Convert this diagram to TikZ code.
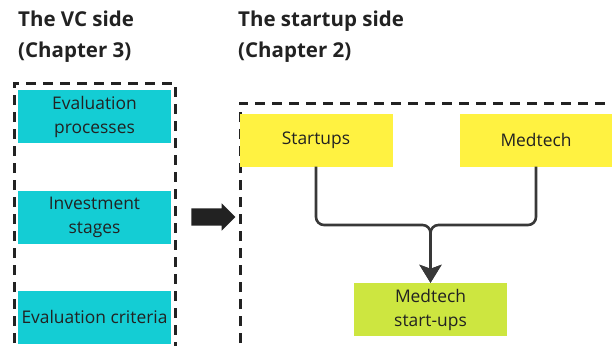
\documentclass[tikz,border=0pt]{standalone}
\usepackage{fontspec}
\setmainfont{Open Sans}
\usetikzlibrary{arrows.meta,shapes.arrows}

\definecolor{vccyan}{RGB}{20,205,212}
\definecolor{stickyyellow}{RGB}{255,242,65}
\definecolor{stickylime}{RGB}{205,230,64}
\definecolor{inkgray}{RGB}{34,34,34}

\tikzset{
  title/.style = {anchor = base west, inner sep = 0, text = inkgray,
    font = \fontsize{20.5}{24}\selectfont\bfseries},
  sidebox/.style = {draw = inkgray, line width = 3pt, dash pattern = on 10pt off 7pt},
  sticky/.style = {minimum width = 153pt, minimum height = 53pt, inner sep = 0,
    align = center, text = inkgray, font = \fontsize{17.4}{24}\selectfont},
  conn/.style = {draw = inkgray!90, line width = 2.6pt, rounded corners = 8pt,
    -{Stealth[length = 18pt, width = 22pt, inset = 4pt]}}
}

\begin{document}
\begin{tikzpicture}[x = 1pt, y = -1pt]
      \useasboundingbox (0, 0) rectangle (612, 345);

      % titles
      \node[title] (vct1) at (18, 27) {The VC side};
      \node[title] (vct2) at (18, 57) {(Chapter 3)};
      \node[title] (sut1) at (238, 27) {The startup side};
      \node[title] (sut2) at (238, 57) {(Chapter 2)};

      % dashed frames
      \draw[sidebox] (14, 360) -- (14, 83) -- (175, 83) -- (175, 360);
      \draw[sidebox] (240, 360) -- (240, 103) -- (625, 103);

      % VC side
      \node[sticky, fill = vccyan] (evproc) at (94.5, 116.5) {Evaluation\\processes};
      \node[sticky, fill = vccyan] (invst) at (94.5, 217.5) {Investment\\stages};
      \node[sticky, fill = vccyan] (evcrit) at (94.5, 317) {Evaluation criteria};

      % big arrow
      \node[single arrow, fill = inkgray, inner sep = 0, inner ysep = 8.5pt,
        minimum height = 44pt, single arrow head extend = 5pt,
        single arrow head indent = 0pt] (bigarrow) at (209, 217) {};

      % startup side
      \node[sticky, fill = stickyyellow] (startups) at (316, 140) {Startups};
      \node[sticky, fill = stickyyellow] (medtech) at (536, 140) {Medtech};
      \node[sticky, fill = stickylime] (medstart) at (430.5, 309.5) {Medtech\\start-ups};

      \coordinate (merge) at (430.5, 225);
      \draw[conn] (startups.south) |- (merge) -- (medstart.north);
      \draw[conn] (medtech.south) |- (merge) -- (medstart.north);
    \end{tikzpicture}
\end{document}
